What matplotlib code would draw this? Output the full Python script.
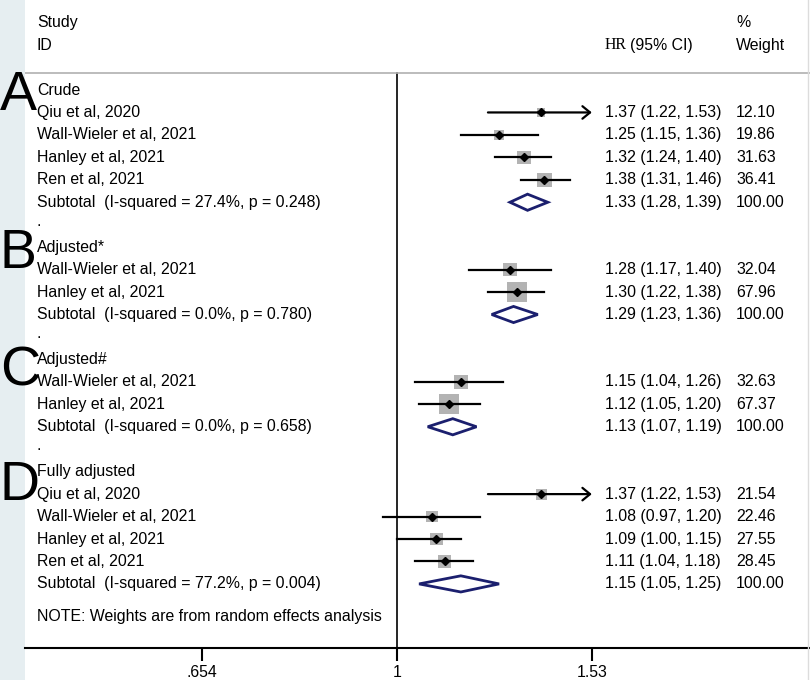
import numpy as np
import matplotlib
matplotlib.use("Agg")
import matplotlib.pyplot as plt
from matplotlib.patches import Polygon, Rectangle, FancyArrowPatch
from matplotlib.ticker import NullLocator, FixedLocator, FixedFormatter

plt.rcParams['font.family'] = ['Liberation Sans', 'DejaVu Sans']

# ---- data ----
group_names = ["Crude", "Adjusted*", "Adjusted#", "Fully adjusted"]
group_letters = ["A", "B", "C", "D"]

crude_study = ["Qiu et al, 2020", "Wall-Wieler et al, 2021", "Hanley et al, 2021", "Ren et al, 2021"]
crude_hr = [1.37, 1.25, 1.32, 1.38]
crude_lo = [1.22, 1.15, 1.24, 1.31]
crude_hi = [1.53, 1.36, 1.40, 1.46]
crude_w = [12.10, 19.86, 31.63, 36.41]

adj1_study = ["Wall-Wieler et al, 2021", "Hanley et al, 2021"]
adj1_hr = [1.28, 1.30]
adj1_lo = [1.17, 1.22]
adj1_hi = [1.40, 1.38]
adj1_w = [32.04, 67.96]

adj2_study = ["Wall-Wieler et al, 2021", "Hanley et al, 2021"]
adj2_hr = [1.15, 1.12]
adj2_lo = [1.04, 1.05]
adj2_hi = [1.26, 1.20]
adj2_w = [32.63, 67.37]

full_study = ["Qiu et al, 2020", "Wall-Wieler et al, 2021", "Hanley et al, 2021", "Ren et al, 2021"]
full_hr = [1.37, 1.08, 1.09, 1.11]
full_lo = [1.22, 0.97, 1.00, 1.04]
full_hi = [1.53, 1.20, 1.15, 1.18]
full_w = [21.54, 22.46, 27.55, 28.45]

sub_hr = [1.33, 1.29, 1.13, 1.15]
sub_lo = [1.28, 1.23, 1.07, 1.05]
sub_hi = [1.39, 1.36, 1.19, 1.25]
sub_i2 = [27.4, 0.0, 0.0, 77.2]
sub_p = [0.248, 0.780, 0.658, 0.004]

xticks = [0.654, 1, 1.53]
xtick_labels = [".654", "1", "1.53"]

groups = [
    (crude_study, crude_hr, crude_lo, crude_hi, crude_w),
    (adj1_study, adj1_hr, adj1_lo, adj1_hi, adj1_w),
    (adj2_study, adj2_hr, adj2_lo, adj2_hi, adj2_w),
    (full_study, full_hr, full_lo, full_hi, full_w),
]

# ---- figure ----
W, H = 810, 680
fig = plt.figure(figsize=(W / 100, H / 100), dpi=100)
fig.patch.set_facecolor("white")
fig.patches.append(Rectangle((0, 0), 25 / W, 1, transform=fig.transFigure,
                             facecolor="#e6eef1", edgecolor="none", zorder=-5))

ax = fig.add_axes([25 / W, 1 - 648 / H, 785 / W, 648 / H])
ax.set_facecolor("white")
ax.set_xscale("log")
ax.set_xlim(0.4448, 2.4616)
ax.set_ylim(24.855, -4.009)
for s in ["top", "left", "right"]:
    ax.spines[s].set_visible(False)
ax.spines["bottom"].set_linewidth(1.5)
ax.set_yticks([])
ax.xaxis.set_major_locator(FixedLocator(xticks))
ax.xaxis.set_major_formatter(FixedFormatter(xtick_labels))
ax.xaxis.set_minor_locator(NullLocator())
ax.tick_params(axis="x", length=9, width=1.5, pad=3.5, labelsize=11.4)

tr = ax.get_yaxis_transform()
FS = 11.4
x_lab = 12 / 785
x_hr = (605 - 25) / 785
x_w = (736 - 25) / 785

# headers
ax.text(x_lab, -3.0, "Study", transform=tr, fontsize=FS, va="center")
ax.text(x_lab, -2.0, "ID", transform=tr, fontsize=FS, va="center")
ax.text(x_hr, -2.0, "HR", transform=tr, fontsize=FS, va="center", family="Liberation Serif")
ax.text((630 - 25) / 785, -2.0, "(95% CI)", transform=tr, fontsize=FS, va="center")
ax.text(x_w, -3.0, "%", transform=tr, fontsize=FS, va="center")
ax.text(x_w, -2.0, "Weight", transform=tr, fontsize=FS, va="center")
ax.axhline(-0.76, color="#b0b0b0", lw=1.2)
ax.plot([1, 1], [-0.76, 24.855], color="black", lw=1.2, zorder=1)
fig.add_artist(plt.Line2D([808 / W, 808 / W], [0, 1], color="#dcdcdc", lw=1))

# baseline pixel of the big panel letters
letter_base = [110, 268, 385, 500]
row = 0
for g, (study, hr, lo, hi, w) in enumerate(groups):
    ax.text(x_lab, row, group_names[g], transform=tr, fontsize=FS, va="center")
    fig.text(0.0, 1 - letter_base[g] / H, group_letters[g], fontsize=40,
             va="baseline", ha="left", zorder=10)
    row += 1
    for i in range(len(study)):
        ax.text(x_lab, row, study[i], transform=tr, fontsize=FS, va="center")
        ax.text(x_hr, row, f"{hr[i]:.2f} ({lo[i]:.2f}, {hi[i]:.2f})", transform=tr,
                fontsize=FS, va="center")
        ax.text(x_w, row, f"{w[i]:.2f}", transform=tr, fontsize=FS, va="center")
        side = 2.4 * np.sqrt(w[i]) * 0.72
        ax.scatter([hr[i]], [row], marker="s", s=side ** 2, color="#b3b3b3",
                   edgecolors="none", zorder=2)
        if hi[i] >= max(xticks):
            ax.add_patch(FancyArrowPatch((lo[i], row), (hi[i], row),
                                         arrowstyle="->,head_length=0.55,head_width=0.45",
                                         mutation_scale=10, lw=1.6, color="black",
                                         shrinkA=0, shrinkB=0, zorder=3))
        else:
            ax.plot([lo[i], hi[i]], [row, row], color="black", lw=1.6, zorder=3)
        ax.plot([hr[i]], [row], marker="D", markersize=4.2, color="black", zorder=4)
        row += 1
    ax.text(x_lab, row,
            f"Subtotal  (I-squared = {sub_i2[g]:.1f}%, p = {sub_p[g]:.3f})",
            transform=tr, fontsize=FS, va="center")
    ax.text(x_hr, row, f"{sub_hr[g]:.2f} ({sub_lo[g]:.2f}, {sub_hi[g]:.2f})",
            transform=tr, fontsize=FS, va="center")
    ax.text(x_w, row, "100.00", transform=tr, fontsize=FS, va="center")
    ax.add_patch(Polygon([(sub_lo[g], row), (sub_hr[g], row - 0.36),
                          (sub_hi[g], row), (sub_hr[g], row + 0.36)],
                         closed=True, facecolor="white", edgecolor="#1b1f6e",
                         lw=2.0, zorder=3))
    row += 1
    if g < len(groups) - 1:
        ax.text(x_lab, row - 0.15, ".", transform=tr, fontsize=FS, va="center")
        row += 1

ax.text(x_lab, row + 0.45, "NOTE: Weights are from random effects analysis",
        transform=tr, fontsize=FS, va="center")

fig.savefig("out.png", dpi=100)
